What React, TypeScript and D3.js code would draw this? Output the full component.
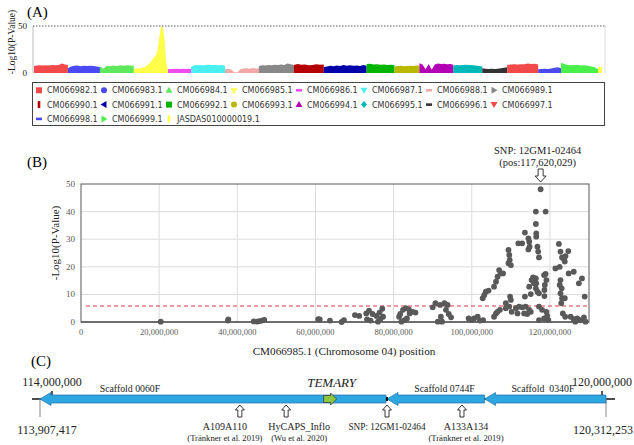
import { scaleLinear, area, symbol, symbolWye, format, cumsum } from "d3";

const serif = "'Liberation Serif', 'Times New Roman', serif";
const sans = "'DejaVu Sans', Verdana, sans-serif";

// ---- panel A: genome-wide manhattan (profile of the dense point bands)
const chrNames = [
  "CM066982.1", "CM066983.1", "CM066984.1", "CM066985.1", "CM066986.1", "CM066987.1", "CM066988.1", "CM066989.1",
  "CM066990.1", "CM066991.1", "CM066992.1", "CM066993.1", "CM066994.1", "CM066995.1", "CM066996.1", "CM066997.1",
  "CM066998.1", "CM066999.1", "JASDAS010000019.1",
];
const chrColors = [
  "#f24a4a", "#4a4af0", "#5ee85e", "#ffff4a", "#f04af0", "#4af0f0", "#f2a8a8", "#888888",
  "#b40000", "#0000aa", "#00b400", "#b8b800", "#b400b4", "#00b8b8", "#333333", "#f24a4a",
  "#4a4af0", "#4af04a", "#ffff4a",
];
const chrMarkers = [
  "square", "circle", "triUp", "wye", "dash", "triDown", "dash", "triRight",
  "bar", "triLeft", "square", "circle", "triUp", "diamond", "dash", "triDown",
  "dash", "triRight", "bar",
];
const chrLengthsMb = [129, 122, 129, 130, 88, 129, 129, 133, 114, 163, 106, 95, 129, 110, 95, 118, 87, 141, 15];
const chrProfiles = [
  [7.5, 8.0, 8.2, 8.0, 8.3, 8.1, 8.4, 8.2, 8.6, 10.0, 9.0, 8.5],
  [5.0, 7.0, 7.6, 8.0, 7.2, 7.8, 7.5, 7.7, 7.4, 7.0, 6.5],
  [7.0, 4.5, 7.8, 7.2, 8.0, 7.5, 8.2, 7.8, 8.3, 8.0, 7.6],
  [5, 4.5, 5.5, 4, 5.5, 5.5, 6.5, 7.5, 9, 11, 13.5, 16, 18, 22, 35, 49, 50, 38, 12, 2],
  [4.0, 4.3, 4.2, 4.5, 4.3, 4.4, 4.2, 4.6, 4.3],
  [6.5, 8.5, 8.2, 8.6, 8.3, 8.8, 8.4, 8.5, 8.2, 8.4, 7.8],
  [4.0, 4.2, 3.8, 0.8, 0.5, 4.0, 4.8, 5.0, 4.6, 5.2, 4.8, 5.0],
  [7.5, 8.3, 8.0, 8.6, 8.2, 8.8, 8.4, 9.0, 8.6, 10.0, 9.2, 8.5],
  [8.5, 9.5, 8.8, 9.0, 8.2, 8.6, 9.2, 8.8, 9.0],
  [6.5, 7.0, 7.6, 7.2, 8.0, 7.5, 8.5, 7.8, 8.2, 7.6, 8.0, 7.4, 8.4, 7.8],
  [9.5, 9.8, 9.0, 9.2, 8.8, 9.0, 8.6, 8.8, 8.5],
  [7.0, 7.4, 7.6, 7.2, 7.5, 7.8, 7.4, 8.0, 7.6],
  [10.5, 9.0, 4.0, 9.5, 3.5, 9.0, 10.0, 9.5, 9.8, 9.2, 9.6, 8.8],
  [8.0, 8.4, 8.2, 8.6, 8.8, 8.4, 8.2, 8.0, 7.5, 7.0],
  [5.0, 4.4, 4.2, 4.5, 4.3, 4.6, 5.0, 5.5, 6.0],
  [8.5, 9.0, 9.2, 9.0, 9.4, 9.3, 10.2, 9.6, 9.8, 9.0],
  [4.0, 4.2, 4.4, 4.3, 4.8, 5.5, 6.0, 5.0],
  [11.0, 9.5, 8.5, 8.2, 8.6, 8.4, 8.0, 8.3, 7.8, 7.0, 6.0, 4.0],
  [6.5, 6.0],
];

// ---- panel B: CM066985.1 SNPs, [position (Mb), -log10 p]
const snpPoints: [number, number][] = [
  [20.4, 0.1], [37.6, 0.5], [37.7, 0.9], [44.2, 0.2], [45.0, 0.1], [45.6, 0.3], [46.3, 0.5], [46.9, 0.8], [60.7, 1.0],
  [61.1, 0.95], [63.7, 0.5], [66.7, 0.0], [67.3, 0.7], [70.1, 2.5], [71.2, 2.2],
  [73.0, 3.1], [73.7, 4.1], [74.6, 2.9], [75.6, 2.2], [76.4, 3.4], [77.1, 4.8], [77.3, 1.9], [73.2, 0.96], [74.1, 0.5], [76.0, 0.1], [76.6, 1.1],
  [81.4, 1.9], [81.7, 2.9], [82.4, 4.4], [83.1, 5.0], [83.9, 4.6], [84.9, 3.7], [85.6, 3.4], [82.8, 0.7], [83.4, 1.3], [82.0, 0.1], [84.1, 3.1],
  [90.0, 5.3], [90.7, 6.8], [91.9, 6.2], [93.0, 6.8], [93.8, 6.2], [93.4, 4.4], [94.1, 2.9], [94.7, 1.7], [91.3, 0.1], [92.4, 0.1], [92.1, 1.9],
  [99.2, 1.3], [100.0, 0.7], [100.6, 1.3], [101.5, 1.9], [102.1, 0.5], [102.9, 0.7],
  [102.8, 8.6], [103.2, 9.8], [103.6, 11.0], [104.3, 11.4],
  [105.7, 12.8], [106.2, 14.6], [106.6, 16.4], [107.0, 18.8], [107.4, 17.6], [108.0, 17.6], [105.7, 1.9], [106.2, 3.1], [106.6, 3.7], [107.2, 4.4],
  [108.7, 6.8], [108.7, 5.0],
  [109.4, 26.1], [109.6, 24.3], [109.7, 22.5], [110.0, 20.6], [109.4, 21.3], [109.8, 9.2], [110.0, 8.0], [109.6, 5.6], [110.2, 3.7],
  [111.9, 28.5], [112.9, 28.5], [113.6, 32.4], [114.5, 30.3], [114.7, 29.1], [114.8, 27.3], [114.5, 26.3],
  [111.3, 5.0], [112.1, 5.6], [112.9, 5.3], [113.8, 5.6], [114.7, 4.4], [111.7, 3.1], [113.4, 3.1], [114.2, 2.9], [115.1, 3.7],
  [113.6, 9.2], [114.7, 12.8], [115.3, 15.2], [115.7, 16.2], [115.9, 14.0], [115.1, 10.1],
  [116.4, 40.0], [116.4, 35.5], [116.5, 32.1], [116.5, 30.9], [116.8, 27.3], [117.0, 25.5], [117.2, 23.4], [117.62, 48.1], [118.9, 40.0],
  [116.4, 15.8], [116.5, 14.0], [116.4, 12.2], [116.8, 11.0], [117.2, 10.4],
  [118.5, 17.0], [118.9, 17.4], [119.1, 15.2], [118.7, 13.4], [118.6, 11.6], [118.6, 9.4],
  [117.2, 5.6], [118.0, 4.4], [119.1, 3.7], [119.3, 2.2], [119.6, 0.7], [118.5, 1.3], [117.2, 0.7],
  [122.3, 28.3], [122.7, 25.5], [123.1, 23.4], [123.6, 22.7], [124.0, 23.9], [124.7, 25.7], [121.4, 19.4], [122.5, 20.0], [123.8, 21.9],
  [122.7, 15.2], [122.5, 13.4], [123.0, 12.2], [122.7, 10.4], [123.1, 8.6], [122.9, 6.8], [123.8, 8.6], [123.3, 3.1], [123.9, 1.9],
  [124.8, 17.6], [126.1, 18.2], [127.4, 14.0], [128.2, 15.8], [128.9, 9.2],
  [125.3, 1.9], [126.1, 1.0], [127.0, 1.3], [127.8, 0.7], [128.7, 1.7], [129.1, 0.1], [126.5, 0.1],
];
const xTicksB = [0, 20e6, 40e6, 60e6, 80e6, 100e6, 120e6];
const yTicksB = [0, 10, 20, 30, 40, 50];
const threshold = 5.8;
const leadSnpPos = 117620029;

// ---- panel C: physical map around the lead SNP
const mapTicks = [114000000, 120000000];
const mapEnds = [113907417, 120312253];
const scaffoldNames = ["Scaffold 0060F", "Scaffold 0744F", "Scaffold  0340F"];
const scaffoldStarts = [113907417, 117620029, 118700000];
const scaffoldEnds = [117620029, 118700000, 120312253];
const markerNames = ["A109A110", "HyCAPS_Inflo", "SNP: 12GM1-02464", "A133A134"];
const markerRefs = ["(Tränkner et al. 2019)", "(Wu et al. 2020)", "", "(Tränkner et al. 2019)"];
const markerPos = [116030000, 116530000, 117620029, 118450000];
const temaryPos = 117000000;

function markerShape(kind: string, cx: number, cy: number) {
  switch (kind) {
    case "square": return `M${cx - 3},${cy - 3}h6v6h-6Z`;
    case "circle": return `M${cx + 3},${cy}A3,3 0 1,1 ${cx - 3},${cy}A3,3 0 1,1 ${cx + 3},${cy}Z`;
    case "triUp": return `M${cx},${cy - 3.5}L${cx + 3.5},${cy + 2.5}L${cx - 3.5},${cy + 2.5}Z`;
    case "triDown": return `M${cx},${cy + 3.5}L${cx + 3.5},${cy - 2.5}L${cx - 3.5},${cy - 2.5}Z`;
    case "triRight": return `M${cx + 3.5},${cy}L${cx - 2.5},${cy - 3.5}L${cx - 2.5},${cy + 3.5}Z`;
    case "triLeft": return `M${cx - 3.5},${cy}L${cx + 2.5},${cy - 3.5}L${cx + 2.5},${cy + 3.5}Z`;
    case "dash": return `M${cx - 3},${cy - 1.3}h6v2.6h-6Z`;
    case "bar": return `M${cx - 1.3},${cy - 3.5}h2.6v7h-2.6Z`;
    case "diamond": return `M${cx},${cy - 3.5}L${cx + 3},${cy}L${cx},${cy + 3.5}L${cx - 3},${cy}Z`;
    default: return "";
  }
}

export default function App() {
  // A
  const offsets = [0, ...Array.from(cumsum(chrLengthsMb))];
  const total = offsets[offsets.length - 1];
  const xA = scaleLinear([0, total], [34, 602]);
  const yA = scaleLinear([0, 50], [73, 26]);

  // B
  const xB = scaleLinear([0, 130e6], [81, 589]);
  const yB = scaleLinear([0, 50], [322, 184]);
  const fmt = format(",");

  // C (schematic, not to scale)
  const xC = scaleLinear(
    [113907417, 114000000, 117620029, 120000000, 120312253],
    [40, 52, 387, 602, 606]
  );
  const cy = 399;
  const labelFrac = [0.26, 0.59, 0.48];
  const markerLabelDx = [-15, 13, 0, 4];
  const wye = symbol(symbolWye, 22)() ?? "";

  const upArrow = (x: number, top: number) =>
    `M${x},${top}L${x + 4.5},${top + 5}L${x + 2},${top + 5}L${x + 2},${top + 12}L${x - 2},${top + 12}L${x - 2},${top + 5}L${x - 4.5},${top + 5}Z`;
  const downArrow = (x: number, bottom: number) =>
    `M${x},${bottom}L${x + 5.5},${bottom - 6}L${x + 2.5},${bottom - 6}L${x + 2.5},${bottom - 13}L${x - 2.5},${bottom - 13}L${x - 2.5},${bottom - 6}L${x - 5.5},${bottom - 6}Z`;

  return (
    <svg width={634} height={445} style={{ position: "absolute", left: 0, top: 0, background: "#fff" }}>
      {/* ===== (A) ===== */}
      <text x={27} y={17} fontFamily={serif} fontSize={15}>(A)</text>
      <text transform="translate(15,42) rotate(-90)" textAnchor="middle" fontFamily={serif} fontSize={9.5} fill="#222">-Log10(P-Value)</text>
      <text x={27} y={yA(50) + 3} textAnchor="end" fontFamily={serif} fontSize={9} fill="#222">50</text>
      <text x={27} y={yA(0) + 3} textAnchor="end" fontFamily={serif} fontSize={9} fill="#222">0</text>
      <line x1={33} x2={33} y1={26} y2={73} stroke="#bbb" />
      <line x1={605} x2={605} y1={26} y2={73} stroke="#ddd" />
      {chrProfiles.map((prof, i) => {
        const len = chrLengthsMb[i];
        const pts = prof.map((v, k) => [offsets[i] + (len * k) / (prof.length - 1), v] as [number, number]);
        const a = area<[number, number]>()
          .x((d) => xA(d[0]))
          .y0(yA(0))
          .y1((d) => yA(d[1]));
        return <path key={i} d={a(pts) ?? ""} fill={chrColors[i]} />;
      })}
      <line x1={33} x2={605} y1={26} y2={26} stroke="#333" strokeWidth={0.8} strokeDasharray="1.5,1.5" />

      {/* legend */}
      <rect x={32.5} y={82.5} width={572} height={43} fill="#fff" stroke="#444" />
      {chrNames.map((name, i) => {
        const col = i % 8;
        const row = Math.floor(i / 8);
        const mx = 39 + 65 * col;
        const my = 90.3 + 14.3 * row;
        return (
          <g key={name}>
            {chrMarkers[i] === "wye" ? (
              <path d={wye} transform={`translate(${mx},${my})`} fill={chrColors[i]} />
            ) : (
              <path d={markerShape(chrMarkers[i], mx, my)} fill={chrColors[i]} />
            )}
            <text x={mx + 8} y={my + 3} fontFamily={sans} fontSize={8} fill="#333">{name}</text>
          </g>
        );
      })}

      {/* ===== (B) ===== */}
      <text x={27} y={167} fontFamily={serif} fontSize={15}>(B)</text>
      {xTicksB.slice(1).map((t) => (
        <line key={t} x1={xB(t)} x2={xB(t)} y1={yB(50)} y2={yB(0)} stroke="#dcdcdc" />
      ))}
      {yTicksB.slice(1, -1).map((t) => (
        <line key={t} x1={xB(0)} x2={xB(130e6)} y1={yB(t)} y2={yB(t)} stroke="#dcdcdc" />
      ))}
      <rect x={xB(0)} y={yB(50)} width={xB(130e6) - xB(0)} height={yB(0) - yB(50)} fill="none" stroke="#595959" />
      <line x1={xB(0)} x2={xB(130e6)} y1={yB(0)} y2={yB(0)} stroke="#595959" strokeWidth={1.6} />
      <line x1={86} x2={xB(130e6)} y1={yB(threshold)} y2={yB(threshold)} stroke="#e0393e" strokeWidth={1} strokeDasharray="4,3" />
      {snpPoints.map(([p, v], i) => (
        <circle key={i} cx={xB(p * 1e6)} cy={yB(v)} r={2.9} fill="#595959" />
      ))}
      {yTicksB.map((t) => (
        <text key={t} x={75} y={yB(t) + 3} textAnchor="end" fontFamily={serif} fontSize={9} fill="#595959">{t}</text>
      ))}
      {xTicksB.map((t) => (
        <text key={t} x={xB(t)} y={335} textAnchor="middle" fontFamily={serif} fontSize={8.5} fill="#595959">{t === 0 ? "0" : fmt(t)}</text>
      ))}
      <text transform="translate(59,243) rotate(-90)" textAnchor="middle" fontFamily={serif} fontSize={11} fill="#222">-Log10(P-Value)</text>
      <text x={344} y={355} textAnchor="middle" fontFamily={serif} fontSize={11.2} fill="#222">CM066985.1 (Chromosome 04) position</text>
      <text x={xB(leadSnpPos) - 3} y={154} textAnchor="middle" fontFamily={serif} fontSize={10.5} fill="#222">SNP: 12GM1-02464</text>
      <text x={xB(leadSnpPos) - 3} y={166} textAnchor="middle" fontFamily={serif} fontSize={10.5} fill="#222">(pos:117,620,029)</text>
      <path d={downArrow(xB(leadSnpPos), 182)} fill="#fff" stroke="#222" strokeWidth={0.9} />

      {/* ===== (C) ===== */}
      <text x={31} y={366} fontFamily={serif} fontSize={15}>(C)</text>
      <line x1={32} x2={615} y1={cy} y2={cy} stroke="#111" strokeWidth={1.6} />
      {mapTicks.map((t) => (
        <g key={t}>
          <line x1={xC(t)} x2={xC(t)} y1={cy - 8} y2={cy} stroke="#111" strokeWidth={1.4} />
          <text x={xC(t)} y={386} textAnchor="middle" fontFamily={serif} fontSize={12} fill="#222">{fmt(t)}</text>
        </g>
      ))}
      {mapEnds.map((t) => (
        <g key={t}>
          <line x1={xC(t)} x2={xC(t)} y1={cy} y2={cy + 18} stroke="#888" strokeWidth={1} />
          <text x={xC(t) + (t < 117e6 ? 7 : -3)} y={434} textAnchor="middle" fontFamily={serif} fontSize={12} fill="#222">{fmt(t)}</text>
        </g>
      ))}
      {scaffoldNames.map((name, i) => {
        const xs = xC(scaffoldStarts[i]);
        const xe = xC(scaffoldEnds[i]) - (i === 0 ? 1 : 0);
        const d = `M${xs},${cy}L${xs + 11},${cy - 6.5}L${xs + 11},${cy - 4}L${xe},${cy - 4}L${xe},${cy + 4}L${xs + 11},${cy + 4}L${xs + 11},${cy + 6.5}Z`;
        return (
          <g key={name}>
            <path d={d} fill="#2ea7e0" stroke="#1f6fa8" strokeWidth={0.7} />
            <text x={xs + (xe - xs) * labelFrac[i]} y={392} textAnchor="middle" fontFamily={serif} fontSize={9.8} fill="#222" style={{ whiteSpace: "pre" }}>{name}</text>
          </g>
        );
      })}
      <rect x={xC(leadSnpPos) - 1} y={cy - 2} width={2} height={4} fill="#111" />
      <path
        d={`M${xC(temaryPos) - 6},${cy - 3.5}L${xC(temaryPos) + 1},${cy - 3.5}L${xC(temaryPos) + 1},${cy - 6}L${xC(temaryPos) + 7},${cy}L${xC(temaryPos) + 1},${cy + 6}L${xC(temaryPos) + 1},${cy + 3.5}L${xC(temaryPos) - 6},${cy + 3.5}Z`}
        fill="#8dc63f" stroke="#333" strokeWidth={0.7}
      />
      <text x={xC(temaryPos) + 2} y={387} textAnchor="middle" fontFamily={serif} fontSize={13} fontStyle="italic" fill="#222">TEMARY</text>
      {markerNames.map((name, i) => {
        const x = xC(markerPos[i]);
        const lx = x + markerLabelDx[i];
        return (
          <g key={name}>
            <path d={upArrow(x, 405)} fill="#fff" stroke="#222" strokeWidth={0.9} />
            <text x={lx} y={430} textAnchor="middle" fontFamily={serif} fontSize={i === 2 ? 9.3 : 10} fill="#222">{name}</text>
            {markerRefs[i] && (
              <text x={lx} y={441} textAnchor="middle" fontFamily={serif} fontSize={8.6} fill="#222">{markerRefs[i]}</text>
            )}
          </g>
        );
      })}
    </svg>
  );
}
